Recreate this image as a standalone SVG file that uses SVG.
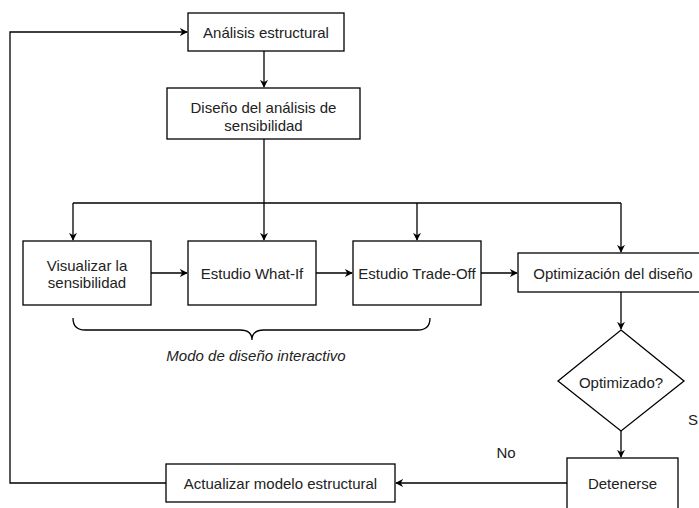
<svg xmlns="http://www.w3.org/2000/svg" width="699" height="508" viewBox="0 0 699 508">
<defs>
<marker id="arr" viewBox="0 0 10 10" refX="9" refY="5" markerWidth="8" markerHeight="8" markerUnits="userSpaceOnUse" orient="auto">
<path d="M0,0 L10,5 L0,10 L3,5 Z" fill="#000"/>
</marker>
<style>
.box{fill:#fff;stroke:#000;stroke-width:1.3}
.t{font-family:"Liberation Sans",Arial,sans-serif;font-size:15px;fill:#222;text-anchor:middle;dominant-baseline:central}
.c{fill:none;stroke:#000;stroke-width:1.3}
.a{marker-end:url(#arr)}
</style>
</defs>
<rect width="699" height="508" fill="#fff"/>
<g id="connectors">
<path class="c a" d="M166,483 L10,483 L10,32 L187,32"/>
<path class="c a" d="M264,51 L264,87"/>
<path class="c a" d="M264,139 L264,240"/>
<path class="c" d="M73,203 L621,203"/>
<path class="c a" d="M73,203 L73,240"/>
<path class="c a" d="M417,203 L417,240"/>
<path class="c a" d="M621,203 L621,252"/>
<path class="c a" d="M151,273 L187,273"/>
<path class="c a" d="M316,273 L352,273"/>
<path class="c a" d="M481,273 L517,273"/>
<path class="c a" d="M621,292 L621,329"/>
<path class="c a" d="M621,431 L621,457"/>
<path class="c a" d="M567,483 L396,483"/>
<path class="c" d="M73,318 Q73,330 85,330 L240,330 Q252,330 252,340 Q252,330 264,330 L418,330 Q430,330 430,318"/>
</g>
<g id="analisis"><rect class="box" x="188" y="13" width="156" height="38"/><text class="t" x="266" y="32">Análisis estructural</text></g>
<g id="diseno"><rect class="box" x="167" y="88" width="193" height="51"/><text class="t" x="263.5" y="107">Diseño del análisis de</text><text class="t" x="263.5" y="125">sensibilidad</text></g>
<g id="visualizar"><rect class="box" x="23" y="241" width="128" height="64"/><text class="t" x="87" y="265">Visualizar la</text><text class="t" x="87" y="282">sensibilidad</text></g>
<g id="whatif"><rect class="box" x="188" y="241" width="128" height="64"/><text class="t" x="252" y="273">Estudio What-If</text></g>
<g id="tradeoff"><rect class="box" x="353" y="241" width="128" height="64"/><text class="t" x="417" y="273">Estudio Trade-Off</text></g>
<g id="optimizacion"><rect class="box" x="518" y="253" width="192" height="39"/><text class="t" x="613" y="273">Optimización del diseño</text></g>
<g id="decision"><polygon class="box" points="621,330 684,381 621,431 558,381"/><text class="t" x="621" y="382">Optimizado?</text></g>
<g id="detenerse"><rect class="box" x="567" y="458" width="111" height="55"/><text class="t" x="622.5" y="483">Detenerse</text></g>
<g id="actualizar"><rect class="box" x="166" y="464" width="229" height="38"/><text class="t" x="280.5" y="483">Actualizar modelo estructural</text></g>
<g id="labels">
<text class="t" x="256" y="355" style="font-style:italic">Modo de diseño interactivo</text>
<text class="t" x="506" y="452">No</text>
<text class="t" x="688" y="419" style="text-anchor:start">S</text>
</g>
</svg>
